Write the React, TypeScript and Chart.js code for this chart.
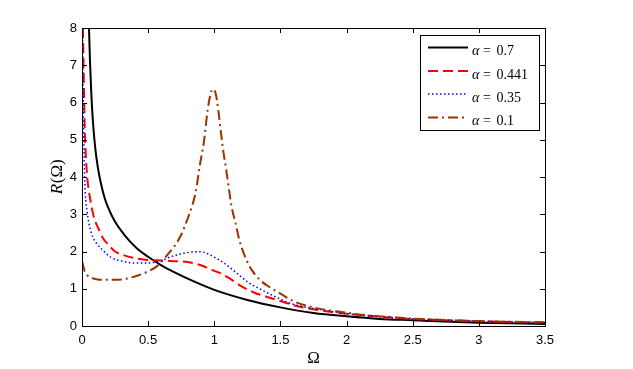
import React, { useEffect, useRef } from "react";
import { Chart, registerables } from "chart.js";

Chart.register(...registerables);

// ---- tick labels ----
const xTickValues = [0, 0.5, 1, 1.5, 2, 2.5, 3, 3.5];
const yTickValues = [0, 1, 2, 3, 4, 5, 6, 7, 8];

// ---- series: alpha = 0.7 (black, solid) ----
const omegaA07 = [0.053, 0.06, 0.07, 0.083, 0.1, 0.12, 0.14, 0.17, 0.2, 0.25, 0.3, 0.35, 0.42, 0.5, 0.6, 0.7, 0.85, 1.0, 1.25, 1.5, 1.75, 2.0, 2.25, 2.5, 3.0, 3.5];
const rA07 = [8.0, 7.15, 6.27, 5.47, 4.78, 4.25, 3.88, 3.45, 3.16, 2.8, 2.54, 2.32, 2.07, 1.86, 1.63, 1.44, 1.19, 0.97, 0.7, 0.5, 0.35, 0.26, 0.19, 0.155, 0.09, 0.055];

// ---- series: alpha = 0.441 (red, dashed) ----
const omegaA0441 = [0.007, 0.013, 0.02, 0.03, 0.038, 0.045, 0.06, 0.075, 0.095, 0.12, 0.16, 0.2, 0.25, 0.3, 0.4, 0.5, 0.6, 0.7, 0.8, 0.9, 0.95, 1.0, 1.05, 1.1, 1.2, 1.3, 1.4, 1.5, 1.6, 1.7, 1.8, 1.9, 2.0, 2.25, 2.5, 3.0, 3.5];
const rA0441 = [8.0, 6.75, 5.4, 4.5, 4.08, 3.8, 3.45, 3.15, 2.86, 2.65, 2.35, 2.18, 2.0, 1.92, 1.82, 1.77, 1.76, 1.74, 1.72, 1.63, 1.56, 1.48, 1.41, 1.31, 1.08, 0.9, 0.78, 0.67, 0.56, 0.48, 0.42, 0.37, 0.33, 0.25, 0.19, 0.13, 0.09];

// ---- series: alpha = 0.35 (blue, dotted) ----
const omegaA035 = [0.004, 0.008, 0.013, 0.018, 0.025, 0.038, 0.053, 0.083, 0.11, 0.15, 0.22, 0.32, 0.41, 0.5, 0.55, 0.6, 0.65, 0.7, 0.78, 0.85, 0.9, 0.95, 1.0, 1.06, 1.1, 1.16, 1.2, 1.27, 1.33, 1.38, 1.44, 1.5, 1.55, 1.6, 1.7, 1.8, 1.9, 2.0, 2.25, 2.5, 3.0, 3.5];
const rA035 = [8.0, 6.5, 5.2, 4.2, 3.55, 3.09, 2.74, 2.38, 2.22, 2.06, 1.84, 1.73, 1.69, 1.69, 1.71, 1.75, 1.83, 1.89, 1.96, 1.99, 1.99, 1.94, 1.85, 1.72, 1.62, 1.45, 1.33, 1.14, 1.02, 0.93, 0.82, 0.72, 0.64, 0.58, 0.5, 0.44, 0.38, 0.33, 0.25, 0.19, 0.13, 0.09];

// ---- series: alpha = 0.1 (brown, dash-dot) ----
const omegaA01 = [0.002, 0.02, 0.05, 0.08, 0.12, 0.2, 0.3, 0.4, 0.45, 0.5, 0.55, 0.6, 0.65, 0.7, 0.75, 0.79, 0.83, 0.86, 0.89, 0.92, 0.95, 0.97, 0.99, 1.01, 1.03, 1.05, 1.07, 1.09, 1.11, 1.13, 1.16, 1.19, 1.24, 1.28, 1.35, 1.42, 1.5, 1.56, 1.63, 1.7, 1.8, 1.95, 2.15, 2.37, 2.5, 3.0, 3.5];
const rA01 = [1.72, 1.47, 1.33, 1.28, 1.25, 1.24, 1.25, 1.33, 1.39, 1.47, 1.56, 1.72, 1.93, 2.15, 2.45, 2.8, 3.2, 3.6, 4.3, 4.9, 5.8, 6.2, 6.36, 6.25, 5.8, 5.2, 4.65, 4.2, 3.7, 3.22, 2.77, 2.3, 1.8, 1.52, 1.22, 1.04, 0.87, 0.74, 0.62, 0.54, 0.46, 0.38, 0.29, 0.23, 0.2, 0.13, 0.1];

const alphaLabels = ["0.7", "0.441", "0.35", "0.1"];
const seriesColors = ["#000000", "#ff0000", "#0000ff", "#993300"];
const seriesDashes: number[][] = [[], [10, 5], [1.5, 2.5], [10, 4, 2, 4]];
const seriesWidths = [2, 2, 1.5, 2];

const toPoints = (xs: number[], ys: number[]) => xs.map((x, i) => ({ x, y: ys[i] }));

const serif = '"Liberation Serif", "Times New Roman", serif';
const sans = '"Liberation Sans", Arial, sans-serif';

const matlabPlugin = {
  id: "matlabDecor",
  afterDatasetsDraw(chart: any) {
    const { ctx, chartArea, scales } = chart;
    const { left, right, top, bottom } = chartArea;
    const xs = scales.x;
    const ys = scales.y;
    ctx.save();
    ctx.strokeStyle = "#000";
    ctx.lineWidth = 1;
    ctx.setLineDash([]);
    ctx.strokeRect(left + 0.5, top + 0.5, right - left, bottom - top);
    const tl = 5;
    ctx.beginPath();
    for (const v of xTickValues) {
      const px = Math.round(xs.getPixelForValue(v)) + 0.5;
      ctx.moveTo(px, bottom);
      ctx.lineTo(px, bottom - tl);
      ctx.moveTo(px, top);
      ctx.lineTo(px, top + tl);
    }
    for (const v of yTickValues) {
      const py = Math.round(ys.getPixelForValue(v)) + 0.5;
      ctx.moveTo(left, py);
      ctx.lineTo(left + tl, py);
      ctx.moveTo(right, py);
      ctx.lineTo(right - tl, py);
    }
    ctx.stroke();
    ctx.restore();
  },
  afterDraw(chart: any) {
    const { ctx, chartArea } = chart;
    const { left, right, top, bottom } = chartArea;
    ctx.save();
    ctx.fillStyle = "#000";
    // x title
    ctx.font = `17px ${serif}`;
    ctx.textAlign = "center";
    ctx.textBaseline = "alphabetic";
    ctx.fillText("Ω", (left + right) / 2, bottom + 37);
    // y title (rotated)
    ctx.save();
    ctx.translate(left - 20.5, (top + bottom) / 2);
    ctx.rotate(-Math.PI / 2);
    ctx.textAlign = "left";
    const partR = "R";
    const partRest = "(Ω)";
    ctx.font = `italic 17px ${serif}`;
    const wR = ctx.measureText(partR).width;
    ctx.font = `17px ${serif}`;
    const wRest = ctx.measureText(partRest).width;
    const start = -(wR + wRest) / 2;
    ctx.font = `italic 17px ${serif}`;
    ctx.fillText(partR, start, 0);
    ctx.font = `17px ${serif}`;
    ctx.fillText(partRest, start + wR + 0.5, 0);
    ctx.restore();

    // legend
    const boxL = right - 125;
    const boxT = top + 7;
    const boxW = 119;
    const boxH = 95;
    ctx.fillStyle = "#fff";
    ctx.fillRect(boxL, boxT, boxW, boxH);
    ctx.strokeStyle = "#000";
    ctx.lineWidth = 1;
    ctx.setLineDash([]);
    ctx.strokeRect(boxL + 0.5, boxT + 0.5, boxW, boxH);
    const rowYs = [12.5, 36, 59, 82.5];
    alphaLabels.forEach((lab, i) => {
      const y = boxT + rowYs[i];
      ctx.save();
      ctx.strokeStyle = seriesColors[i];
      ctx.lineWidth = seriesWidths[i];
      ctx.setLineDash(seriesDashes[i]);
      ctx.beginPath();
      ctx.moveTo(boxL + 8, y);
      ctx.lineTo(boxL + 48, y);
      ctx.stroke();
      ctx.restore();
      ctx.fillStyle = "#000";
      ctx.textAlign = "left";
      ctx.textBaseline = "alphabetic";
      const base = y + 7.5;
      ctx.font = `italic 14px ${serif}`;
      ctx.fillText("α", boxL + 52, base);
      ctx.font = `14px ${serif}`;
      ctx.fillText("=", boxL + 63, base);
      ctx.fillText(lab, boxL + 76.5, base);
    });
    ctx.restore();
  },
};

export default function App() {
  const canvasRef = useRef<HTMLCanvasElement | null>(null);

  useEffect(() => {
    const canvas = canvasRef.current;
    if (!canvas) return;
    const data = [
      toPoints(omegaA07, rA07),
      toPoints(omegaA0441, rA0441),
      toPoints(omegaA035, rA035),
      toPoints(omegaA01, rA01),
    ];
    const chart = new Chart(canvas, {
      type: "line",
      data: {
        datasets: data.map((d, i) => ({
          label: "α = " + alphaLabels[i],
          data: d,
          borderColor: seriesColors[i],
          backgroundColor: seriesColors[i],
          borderWidth: seriesWidths[i],
          borderDash: seriesDashes[i],
          pointRadius: 0,
          fill: false,
          cubicInterpolationMode: "monotone" as const,
          order: 4 - i,
        })),
      },
      options: {
        responsive: false,
        animation: false,
        devicePixelRatio: 1,
        parsing: false as any,
        layout: { padding: { left: 0, right: 88, top: 28, bottom: 0 } },
        plugins: {
          legend: { display: false },
          tooltip: { enabled: false },
          title: { display: false },
        },
        scales: {
          x: {
            type: "linear",
            min: 0,
            max: 3.5,
            afterFit: (s: any) => {
              s.height = 43;
            },
            grid: { display: false, drawTicks: false },
            border: { display: false },
            ticks: {
              stepSize: 0.5,
              padding: 7,
              color: "#000",
              autoSkip: false,
              maxRotation: 0,
              font: { family: sans, size: 13 },
              callback: (v: any) => String(v),
            },
          },
          y: {
            type: "linear",
            min: 0,
            max: 8,
            afterFit: (s: any) => {
              s.width = 82;
            },
            grid: { display: false, drawTicks: false },
            border: { display: false },
            ticks: {
              stepSize: 1,
              padding: 5,
              color: "#000",
              autoSkip: false,
              font: { family: sans, size: 13 },
              callback: (v: any) => String(v),
            },
          },
        },
      },
      plugins: [matlabPlugin],
    });
    return () => chart.destroy();
  }, []);

  return (
    <div style={{ position: "absolute", left: 0, top: 0, width: 633, height: 369, background: "#fff" }}>
      <canvas ref={canvasRef} width={633} height={369} style={{ display: "block" }} />
    </div>
  );
}
